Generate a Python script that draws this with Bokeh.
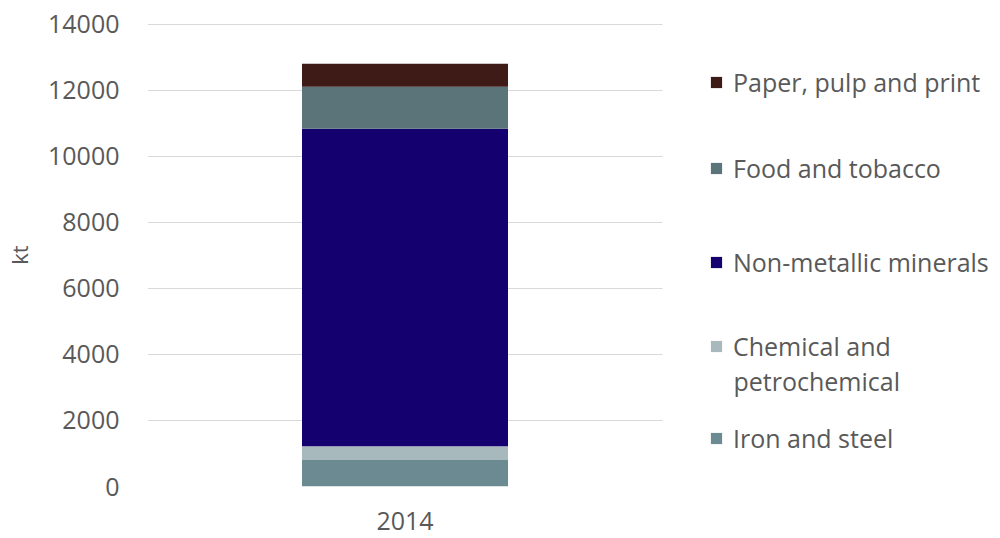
from bokeh.plotting import figure
from bokeh.models import (Range1d, FixedTicker, Legend, LegendItem, ColumnDataSource,
                          Label, BoxAnnotation, Grid)
from bokeh.embed import file_html
from bokeh.resources import INLINE

years = ["2014"]
sectors = ["Iron and steel", "Chemical and petrochemical", "Non-metallic minerals",
           "Food and tobacco", "Paper, pulp and print"]
iron_steel = [800]
chemical = [420]
non_metallic = [9620]
food_tobacco = [1270]
paper_pulp = [700]
colors = ["#6b8a91", "#a8b9be", "#14006e", "#5a7479", "#3f1b17"]
y_ticks = [0, 2000, 4000, 6000, 8000, 10000, 12000, 14000]

FONT = "Open Sans"
TXT = "#595959"

# layout (pixels)
W, H = 1000, 538
LEFT, TOP, BOTTOM = 147, 23, 52
PLOT_W = 515          # width of the gridded chart area
FRAME_W = W - LEFT    # frame extends under the legend
FRAME_H = H - TOP - BOTTOM
Y_END = 14030         # a hair above the top tick so its gridline is not clipped

keys = ["iron", "chem", "nonmet", "food", "paper"]
xidx = list(range(len(years)))
source = ColumnDataSource(dict(x=xidx, iron=iron_steel, chem=chemical,
                               nonmet=non_metallic, food=food_tobacco, paper=paper_pulp))

x_end = -0.5 + FRAME_W / PLOT_W
p = figure(width=W, height=H, output_backend="svg", toolbar_location=None,
           x_range=Range1d(-0.5, x_end), y_range=Range1d(0, Y_END),
           min_border_left=LEFT, min_border_right=0, min_border_top=TOP,
           min_border_bottom=BOTTOM)
p.outline_line_color = None

renderers = p.vbar_stack(keys, x="x", width=0.4, color=colors, source=source,
                         line_color=None)

p.xaxis.ticker = FixedTicker(ticks=xidx)
p.xaxis.major_label_overrides = {i: y for i, y in zip(xidx, years)}
p.yaxis.ticker = FixedTicker(ticks=y_ticks)
p.yaxis.axis_label = "kt"
for ax in (p.xaxis, p.yaxis):
    ax.axis_line_color = None
    ax.major_tick_line_color = None
    ax.minor_tick_line_color = None
    ax.major_label_text_font = FONT
    ax.major_label_text_color = TXT
    ax.major_label_text_font_size = "25px"
p.yaxis.major_label_standoff = 22
p.xaxis.major_label_standoff = 19
p.yaxis.axis_label_text_font = FONT
p.yaxis.axis_label_text_font_style = "normal"
p.yaxis.axis_label_text_color = TXT
p.yaxis.axis_label_text_font_size = "22px"
p.yaxis.axis_label_standoff = 11
p.xgrid.grid_line_color = None
p.ygrid.grid_line_color = "#d9d9d9"
p.ygrid.grid_line_width = 1

if "cross_bounds" in Grid.properties():
    p.ygrid.cross_bounds = (-0.5, 0.5)
else:
    p.add_layout(BoxAnnotation(left=0.5, fill_color="white", fill_alpha=1,
                               line_color=None, level="underlay"))

# legend: one Legend per entry, placed like the reference
ITEM_H = 34
GLYPH_X = 709 - LEFT
entries = [(4, "Paper, pulp and print", 82), (3, "Food and tobacco", 168),
           (2, "Non-metallic minerals", 262), (1, "Chemical and", 346),
           (0, "Iron and steel", 438)]
for idx, lab, cy in entries:
    lg = Legend(items=[LegendItem(label=lab, renderers=[renderers[idx]])],
                location=(GLYPH_X, (H - BOTTOM) - (cy + ITEM_H // 2)),
                label_text_font=FONT, label_text_color=TXT,
                label_text_font_size="25px", glyph_width=14, glyph_height=14,
                label_standoff=10, padding=0, margin=0, spacing=0,
                border_line_color=None, background_fill_alpha=0)
    p.add_layout(lg, "center")

lab_x = -0.5 + (GLYPH_X + 24) / PLOT_W
lab_y = (H - BOTTOM - 380) / FRAME_H * Y_END
p.add_layout(Label(x=lab_x, y=lab_y, text="petrochemical", text_font=FONT,
                   text_color=TXT, text_font_size="25px", text_baseline="middle"))

open("out.html", "w").write(file_html(p, INLINE))
